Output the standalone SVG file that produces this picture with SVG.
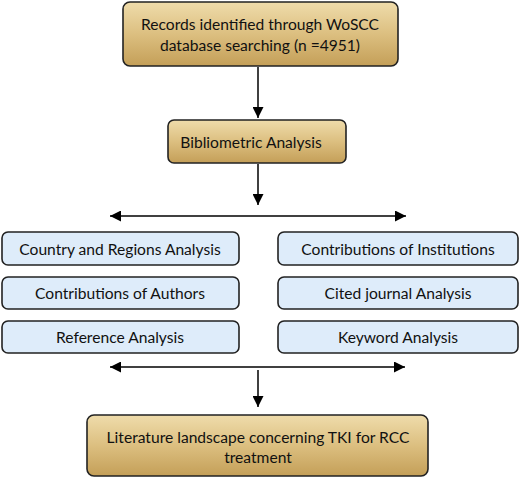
<svg xmlns="http://www.w3.org/2000/svg" width="520" height="478" viewBox="0 0 520 478">
<defs>
<linearGradient id="gold" x1="0" y1="0" x2="0" y2="1">
<stop offset="0" stop-color="#efdcab"/>
<stop offset="0.5" stop-color="#dcbf80"/>
<stop offset="1" stop-color="#c49f58"/>
</linearGradient>
<marker id="ah" viewBox="0 0 10 10" refX="10" refY="5" markerWidth="11" markerHeight="11" markerUnits="userSpaceOnUse" orient="auto-start-reverse">
<path d="M0,0 L10,5 L0,10 z" fill="#000"/>
</marker>
<style>
.gold{fill:url(#gold);stroke:#222;stroke-width:1.6}
.blue{fill:#deecfa;stroke:#222;stroke-width:1.6}
text{font-family:Lato,"Open Sans","Liberation Sans",sans-serif;font-size:15.6px;fill:#111;text-anchor:middle}
.c{stroke:#000;stroke-width:1.5;fill:none}
</style>
</defs>
<rect width="520" height="478" fill="#fff"/>
<g id="connectors">
<line class="c" x1="258" y1="67" x2="258" y2="118" marker-end="url(#ah)"/>
<line class="c" x1="258" y1="164" x2="258" y2="205" marker-end="url(#ah)"/>
<line class="c" x1="110" y1="216" x2="406" y2="216" marker-start="url(#ah)" marker-end="url(#ah)"/>
<line class="c" x1="110" y1="367" x2="405" y2="367" marker-start="url(#ah)" marker-end="url(#ah)"/>
<line class="c" x1="258" y1="370" x2="258" y2="407" marker-end="url(#ah)"/>
</g>
<g id="records">
<rect class="gold" x="123" y="2" width="275" height="64" rx="7"/>
<text x="260" y="30">Records identified through WoSCC</text>
<text x="260" y="51">database searching (n =4951)</text>
</g>
<g id="biblio">
<rect class="gold" x="168" y="120" width="178" height="43" rx="6"/>
<text x="251" y="148">Bibliometric Analysis</text>
</g>
<g id="country">
<rect class="blue" x="2" y="232" width="237" height="33" rx="6"/>
<text x="120" y="254.5">Country and Regions Analysis</text>
</g>
<g id="authors">
<rect class="blue" x="2" y="277" width="237" height="32" rx="6"/>
<text x="120" y="299">Contributions of Authors</text>
</g>
<g id="reference">
<rect class="blue" x="2" y="321" width="237" height="32" rx="6"/>
<text x="120" y="343">Reference Analysis</text>
</g>
<g id="institutions">
<rect class="blue" x="278" y="232" width="240" height="33" rx="6"/>
<text x="398" y="254.5">Contributions of Institutions</text>
</g>
<g id="journal">
<rect class="blue" x="278" y="277" width="240" height="32" rx="6"/>
<text x="398" y="299">Cited journal Analysis</text>
</g>
<g id="keyword">
<rect class="blue" x="278" y="321" width="240" height="32" rx="6"/>
<text x="398" y="343">Keyword Analysis</text>
</g>
<g id="landscape">
<rect class="gold" x="87" y="415" width="341" height="61" rx="7"/>
<text x="258" y="443">Literature landscape concerning TKI for RCC</text>
<text x="258" y="463">treatment</text>
</g>
</svg>
